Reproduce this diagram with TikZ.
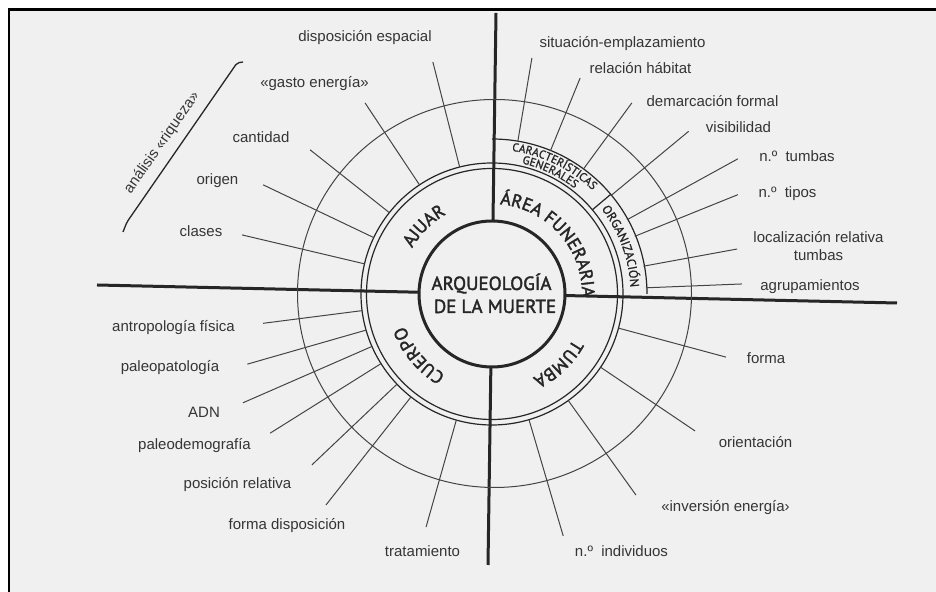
\documentclass[tikz,border=0pt]{standalone}
\usepackage{fontspec}
\setmainfont{Liberation Sans}
\newfontfamily\ptsans[FakeBold=2]{PT Sans}
\newfontfamily\ptsansm[FakeBold=1.2]{PT Sans}
\usetikzlibrary{decorations.text}
\definecolor{bgc}{HTML}{F0F0F0}
\definecolor{ink}{HTML}{262626}
\definecolor{txt}{HTML}{353535}
\definecolor{spk}{HTML}{444444}
\newcommand\quadf{\ptsans\fontsize{18bp}{20bp}\selectfont}
\newcommand\bandf{\ptsansm\fontsize{11.5bp}{13bp}\selectfont}
\newcommand\orgf{\ptsansm\fontsize{12.5bp}{13bp}\selectfont}
\begin{document}
\begin{tikzpicture}[x=1bp,y=1bp,
  lbl/.style={font=\fontsize{15bp}{18bp}\selectfont, text=txt, inner sep=0pt, anchor=base},
  spoke/.style={draw=spk, line width=1bp},
  axisline/.style={draw=ink, line width=3bp},
  ringline/.style={draw=ink, line width=1.2bp},
  arctext/.style={decorate, decoration={text along path, text align=center, text color=ink}},
]
\useasboundingbox (0,0) rectangle (936,592);
\fill[white] (0,0) rectangle (936,592);
\fill[bgc] (9,0) rectangle (936,582.3);
\draw[black, line width=2.5bp] (9,0) -- (9,582.3) -- (936,582.3);

\coordinate (C) at (492,298);
% axes
\coordinate (hl) at (97,307);
\coordinate (hr) at (897,289);
\coordinate (vt) at (496,579);
\coordinate (vb) at (488,27);
\draw[axisline] (hl) -- (hr);
\draw[axisline] (vt) -- (vb);

% outer thin circle
\draw[draw=spk, line width=1bp] (494.5,298.5) ellipse [x radius=197, y radius=194];

% ring
\draw[ringline] (C) circle[radius=125.5];
\draw[ringline] (C) circle[radius=131];
% band of area funeraria
\draw[ringline] ([shift={(90:155)}]C) arc[start angle=90, end angle=0, radius=155];
\draw[ringline] ([shift={(40:131)}]C) -- ([shift={(40:155)}]C);

% spokes
\foreach \n/\a/\ri/\ro in {
  disp/104.3/131/239.4, gasto/123.6/131/229.4, cant/141.6/131/232.1,
  orig/154.5/131/253.6, clas/166.7/131/256.9,
  sit/80.4/155/239.4, rel/67.8/155/233.2, dem/53.8/155/236.8,
  vis/39.6/155/255.2, ntum/28.8/154/280.6, ntip/22.0/154/265.2,
  loc/10.4/154/249.3, agr/2.3/154/250.2,
  antr/187.3/131/230.8, paleop/196/131/254.5, adn/203.6/131/271.8,
  paleod/212.1/131/261.9, pos/223.5/131/248.3, fdis/231.8/131/268.5,
  trat/254.2/131/242.2,
  forma/-15.1/131/242.3, ori/-34/131/244.9, inv/-54.4/131/247.3,
  nind/-73.6/131/252.2}{
  \coordinate (\n-in) at ([shift={(\a:\ri)}]C);
  \coordinate (\n-out) at ([shift={(\a:\ro)}]C);
  \draw[spoke] (\n-in) -- (\n-out);
}

% central circle
\fill[bgc] (C) circle[radius=73];
\draw[draw=ink, line width=3bp] (C) circle[radius=73];
\node[anchor=base, inner sep=0pt, text=ink, font=\ptsans\fontsize{19bp}{21bp}\selectfont] (t1) at (491.5,302) {ARQUEOLOGÍA};
\node[anchor=base, inner sep=0pt, text=ink, font=\ptsans\fontsize{19bp}{21bp}\selectfont] (t2) at (495,279) {DE LA MUERTE};

% quadrant labels along arcs
\path[arctext, decoration={text={|\quadf|AJUAR}}]
  ([shift={(165:92)}]C) arc[start angle=165, end angle=105, radius=92];
\path[arctext, decoration={text={|\quadf|ÁREA FUNERARIA}}]
  ([shift={(106.5:90)}]C) arc[start angle=106.5, end angle=-23.5, radius=90];
\path[arctext, decoration={text={|\quadf|TUMBA}}]
  ([shift={(13.5:93)}]C) arc[start angle=13.5, end angle=-106.5, radius=93];
\path[arctext, decoration={text={|\quadf|CUERPO}}]
  ([shift={(-80:93)}]C) arc[start angle=-80, end angle=-200, radius=93];
\path[arctext, decoration={text={|\bandf|CARACTERÍSTICAS}}]
  ([shift={(104:144.5)}]C) arc[start angle=104, end angle=24, radius=144.5];
\path[arctext, decoration={text={|\bandf|GENERALES}}]
  ([shift={(104.5:134)}]C) arc[start angle=104.5, end angle=24.5, radius=134];
\path[arctext, decoration={text={|\orgf|ORGANIZACIÓN}}]
  ([shift={(60.3:138.5)}]C) arc[start angle=60.3, end angle=-19.7, radius=138.5];

% bracket
\coordinate (b1) at (243,530);
\coordinate (b2) at (237,529);
\coordinate (b3) at (127,370);
\coordinate (b4) at (123,360);
\draw[draw=ink, line width=1.3bp, rounded corners=2bp] (b1) -- (b2) -- (b3) -- (b4);
\node[lbl, anchor=center, rotate=55] (riq) at (162,449) {análisis «riqueza»};

% labels
\node[lbl] (l-disp) at (365,550.5) {disposición espacial};
\node[lbl] (l-gasto) at (314.5,504.5) {«gasto energía»};
\node[lbl] (l-cant) at (261,449.5) {cantidad};
\node[lbl] (l-orig) at (217.5,407.5) {origen};
\node[lbl] (l-clas) at (201,355.5) {clases};
\node[lbl] (l-sit) at (622.5,544.5) {situación-emplazamiento};
\node[lbl] (l-rel) at (640.5,518.5) {relación hábitat};
\node[lbl] (l-dem) at (712.5,485.5) {demarcación formal};
\node[lbl] (l-vis) at (738.5,459.5) {visibilidad};
\node[lbl] (l-ntum) at (797,430.5) {n.º~\ tumbas};
\node[lbl] (l-ntip) at (787.5,394.5) {n.º~\ tipos};
\node[lbl, anchor=center, align=center] (l-loc) at (818.5,346) {localización relativa\\tumbas};
\node[lbl] (l-agr) at (810,301.5) {agrupamientos};
\node[lbl] (l-antr) at (173.5,260.5) {antropología física};
\node[lbl] (l-paleop) at (170,220.5) {paleopatología};
\node[lbl] (l-adn) at (204,174.5) {ADN};
\node[lbl] (l-paleod) at (194.5,142.5) {paleodemografía};
\node[lbl] (l-pos) at (237.5,103.5) {posición relativa};
\node[lbl] (l-fdis) at (287,62.5) {forma disposición};
\node[lbl] (l-trat) at (422.5,35.5) {tratamiento};
\node[lbl] (l-forma) at (766,228.5) {forma};
\node[lbl] (l-ori) at (755.5,144.5) {orientación};
\node[lbl] (l-inv) at (725.5,80.5) {«inversión energía›};
\node[lbl] (l-nind) at (621.5,35.5) {n.º~\ individuos};
\end{tikzpicture}
\end{document}
